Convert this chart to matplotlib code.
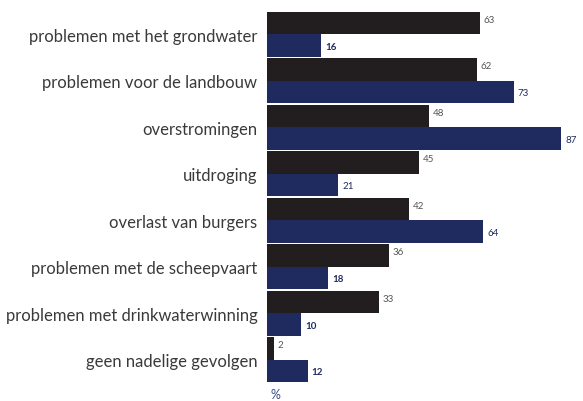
import matplotlib
matplotlib.use("Agg")
import matplotlib.pyplot as plt
import numpy as np

categories = [
    "problemen met het grondwater",
    "problemen voor de landbouw",
    "overstromingen",
    "uitdroging",
    "overlast van burgers",
    "problemen met de scheepvaart",
    "problemen met drinkwaterwinning",
    "geen nadelige gevolgen",
]
series_black = [63, 62, 48, 45, 42, 36, 33, 2]
series_blue = [16, 73, 87, 21, 64, 18, 10, 12]
unit_label = "%"

black = "#221e1f"
blue = "#1f2b5f"
textc = "#3a3a3a"

fig = plt.figure(figsize=(5.83, 4.02), dpi=100)
fig.patch.set_facecolor("white")
ax = fig.add_axes([267/583, 1-384/402, 1-267/583, (384-12)/402])

y = np.arange(len(categories))
h = 0.48
ax.barh(y - h/2, series_black, height=h, color=black)
ax.barh(y + h/2, series_blue, height=h, color=blue)

for i, (a, b) in enumerate(zip(series_black, series_blue)):
    ax.text(a + 1.2, i - h/2 - 0.08, str(a), fontsize=7, color="#555555",
            va="center", ha="left", family="Lato")
    ax.text(b + 1.2, i + h/2 + 0.02, str(b), fontsize=7, color=blue,
            va="center", ha="left", family="Lato", fontweight="bold" if b < 20 else "normal")

ax.set_xlim(0, 93.5)
ax.set_ylim(len(categories) - 0.5, -0.5)
ax.set_yticks(y)
ax.set_yticklabels(categories, fontsize=12, color=textc, family="Lato")
ax.tick_params(axis="y", length=0, pad=7)
ax.set_xticks([])
for s in ax.spines.values():
    s.set_visible(False)

fig.text(275/583, 1-395/402, unit_label, fontsize=9, color="#3a4a8a",
         ha="center", va="center", family="Lato")

fig.savefig("out.png", dpi=100)
